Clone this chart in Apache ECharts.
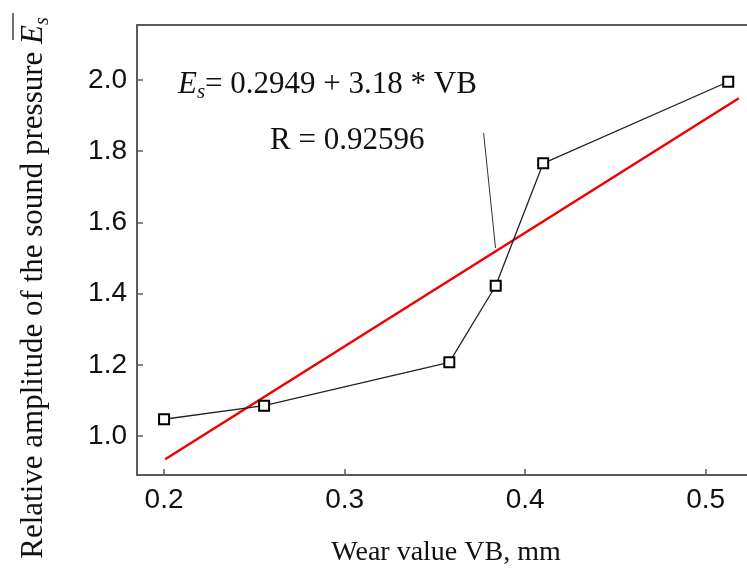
<!DOCTYPE html>
<html>
<head>
<meta charset="utf-8">
<script src="https://cdn.jsdelivr.net/npm/echarts@6/dist/echarts.min.js"></script>
<style>
  html, body { margin: 0; padding: 0; background: #fff; }
  #main { width: 747px; height: 576px; }
</style>
</head>
<body>
<div id="main"></div>
<script>
// measured points (wear value VB, relative amplitude)
var wearVB = [0.2, 0.2554, 0.358, 0.3837, 0.41, 0.5125];
var amplitude = [1.047, 1.085, 1.207, 1.422, 1.766, 1.995];

// regression line end points
var fitVB = [0.2006, 0.5184];
var fitAmp = [0.9345, 1.9486];

// thin pointer from the label to the fit line
var pointerVB = [0.377, 0.3836];
var pointerAmp = [1.851, 1.528];

var xTicks = [0.2, 0.3, 0.4, 0.5];
var yTicks = [1.0, 1.2, 1.4, 1.6, 1.8, 2.0];

function pairs(xs, ys) {
    var out = [];
    for (var i = 0; i < xs.length; i++) {
        out.push([xs[i], ys[i]]);
    }
    return out;
}

var serif = '"Liberation Serif", "Times New Roman", serif';
var sans = '"Liberation Sans", Arial, sans-serif';
var axisGray = '#5a5a5a';

var chart = echarts.init(document.getElementById('main'));

var option = {
    animation: false,
    backgroundColor: '#fff',
    grid: {
        left: 137,
        right: 0,
        top: 25,
        bottom: 101,
        containLabel: false
    },
    xAxis: [{
        type: 'value',
        min: 0.185,
        max: 0.5229,
        axisLine: { show: true, onZero: false, lineStyle: { color: axisGray, width: 2 } },
        axisTick: { show: true, inside: true, length: 6, lineStyle: { color: axisGray, width: 1.5 },
            customValues: xTicks },
        axisLabel: {
            show: true,
            fontFamily: sans,
            fontSize: 28,
            color: '#111',
            margin: 11,
            customValues: xTicks,
            formatter: function (v) { return v.toFixed(1); }
        },
        splitLine: { show: false }
    }, {
        type: 'value',
        position: 'top',
        min: 0.185,
        max: 0.5229,
        axisLine: { show: true, onZero: false, lineStyle: { color: axisGray, width: 2 } },
        axisTick: { show: false },
        axisLabel: { show: false },
        splitLine: { show: false }
    }],
    yAxis: {
        type: 'value',
        min: 0.8904,
        max: 2.1545,
        axisLine: { show: true, onZero: false, lineStyle: { color: axisGray, width: 2 } },
        axisTick: { show: true, inside: true, length: 6, lineStyle: { color: axisGray, width: 1.5 },
            customValues: yTicks },
        axisLabel: {
            show: true,
            fontFamily: sans,
            fontSize: 28,
            color: '#111',
            margin: 10,
            customValues: yTicks,
            formatter: function (v) { return v.toFixed(1); }
        },
        splitLine: { show: false }
    },
    series: [{
        name: 'fit',
        type: 'line',
        data: pairs(fitVB, fitAmp),
        symbol: 'none',
        lineStyle: { color: '#f00000', width: 2.5 },
        z: 2
    }, {
        name: 'pointer',
        type: 'line',
        data: pairs(pointerVB, pointerAmp),
        symbol: 'none',
        lineStyle: { color: '#333', width: 1 },
        z: 3
    }, {
        name: 'measured',
        type: 'line',
        data: pairs(wearVB, amplitude),
        symbol: 'rect',
        symbolSize: 10,
        itemStyle: { color: '#fff', borderColor: '#000', borderWidth: 2 },
        lineStyle: { color: '#222', width: 1.3 },
        z: 4
    }],
    graphic: [{
        type: 'text',
        x: 178,
        y: 103,
        style: {
            text: '{e|E}{s|s}{t|= 0.2949 + 3.18 * VB}',
            verticalAlign: 'bottom',
            rich: {
                e: { fontFamily: serif, fontSize: 31, fontStyle: 'italic', fill: '#111', lineHeight: 36, verticalAlign: 'middle' },
                s: { fontFamily: serif, fontSize: 21, fontStyle: 'italic', fill: '#111', lineHeight: 36, verticalAlign: 'bottom' },
                t: { fontFamily: serif, fontSize: 31, fill: '#111', lineHeight: 36, verticalAlign: 'middle' }
            }
        }
    }, {
        type: 'text',
        x: 270,
        y: 141,
        style: {
            text: 'R = 0.92596',
            font: '31px ' + serif,
            fill: '#111',
            verticalAlign: 'middle'
        }
    }, {
        type: 'text',
        x: 446,
        y: 553,
        style: {
            text: 'Wear value VB, mm',
            font: '28px ' + serif,
            fill: '#111',
            align: 'center',
            verticalAlign: 'middle'
        }
    }, {
        type: 'text',
        x: 34,
        y: 288,
        rotation: Math.PI / 2,
        style: {
            text: 'Relative amplitude of the sound pressure {e|E}{s|s}',
            font: '31px ' + serif,
            fill: '#111',
            align: 'center',
            verticalAlign: 'middle',
            rich: {
                e: { fontFamily: serif, fontSize: 31, fontStyle: 'italic', fill: '#111', lineHeight: 38, verticalAlign: 'middle' },
                s: { fontFamily: serif, fontSize: 20, fontStyle: 'italic', fill: '#111', lineHeight: 38, verticalAlign: 'bottom' }
            }
        }
    }, {
        type: 'line',
        shape: { x1: 13, y1: 13, x2: 13, y2: 40 },
        style: { stroke: '#111', lineWidth: 1.2 }
    }]
};

chart.setOption(option);
</script>
</body>
</html>
